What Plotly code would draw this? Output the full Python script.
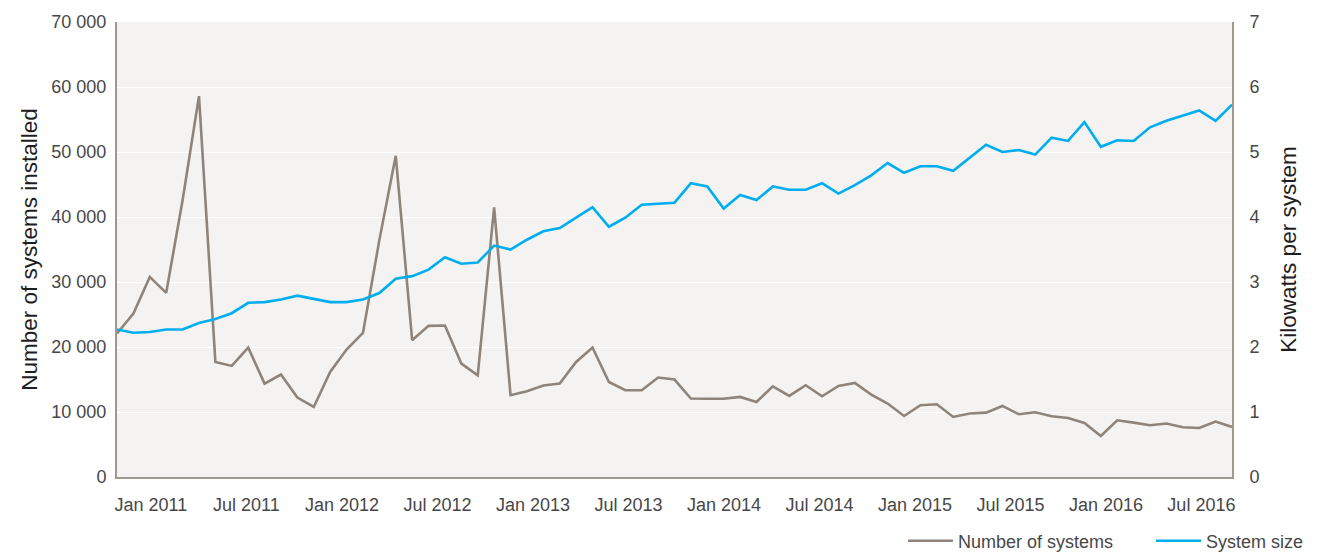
import plotly.graph_objects as go

# Monthly data, Jan 2011 .. Sep 2016
months = [f"{y}-{m:02d}" for y in range(2011, 2017) for m in range(1, 13)][:69]

number_of_systems = [
    22070, 25150, 30790, 28330, 42590, 58600, 17700, 17090, 19920, 14370, 15760, 12220,
    10780, 16160, 19610, 22170, 36440, 49420, 21040, 23250, 23300, 17450, 15650, 41470,
    12580, 13190, 14070, 14370, 17700, 19920, 14620, 13350, 13350, 15300, 14990, 12070,
    12030, 12030, 12320, 11550, 13960, 12470, 14120, 12420, 14010, 14470, 12680, 11300,
    9390, 11040, 11190, 9240, 9760, 9910, 10930, 9650, 9960, 9340, 9080, 8310,
    6310, 8730, 8370, 7960, 8220, 7650, 7540, 8530, 7700,
]

system_size = [
    2.27, 2.22, 2.23, 2.27, 2.27, 2.37, 2.43, 2.52, 2.68, 2.69, 2.73, 2.79,
    2.74, 2.69, 2.69, 2.73, 2.83, 3.05, 3.09, 3.19, 3.38, 3.28, 3.30, 3.56,
    3.50, 3.65, 3.78, 3.83, 3.99, 4.15, 3.85, 3.99, 4.19, 4.21, 4.22, 4.52,
    4.47, 4.13, 4.34, 4.26, 4.47, 4.42, 4.42, 4.52, 4.36, 4.49, 4.64, 4.83,
    4.68, 4.78, 4.78, 4.71, 4.91, 5.11, 5.00, 5.03, 4.96, 5.22, 5.17, 5.46,
    5.08, 5.18, 5.17, 5.38, 5.48, 5.56, 5.64, 5.48, 5.73,
]

tick_labels = ["Jan 2011", "Jul 2011", "Jan 2012", "Jul 2012", "Jan 2013", "Jul 2013",
               "Jan 2014", "Jul 2014", "Jan 2015", "Jul 2015", "Jan 2016", "Jul 2016"]

left_ticks = [0, 10000, 20000, 30000, 40000, 50000, 60000, 70000]
right_ticks = [0, 1, 2, 3, 4, 5, 6, 7]

x = list(range(len(months)))
tick_offset, tick_step = 2.07, 5.824
tickvals = [tick_offset + i * tick_step for i in range(len(tick_labels))]

GREY = "#8e847c"
BLUE = "#00aeef"
AXIS = "#a0978f"
TEXT = "#474747"
TITLE = "#1e1e1e"
FONT = "Liberation Sans"

fig = go.Figure()
fig.add_trace(go.Scatter(x=x, y=number_of_systems, mode="lines", name="Number of systems",
                         line=dict(color=GREY, width=2.6), yaxis="y"))
fig.add_trace(go.Scatter(x=x, y=system_size, mode="lines", name="System size",
                         line=dict(color=BLUE, width=2.6), yaxis="y2"))

fig.update_layout(
    width=1314, height=544,
    margin=dict(l=109, r=90, t=14, b=75, autoexpand=False),
    paper_bgcolor="white",
    plot_bgcolor="#f4f3f1",
    separators=". ",
    font=dict(family=FONT, color=TEXT, size=18),
    showlegend=True,
    legend=dict(orientation="h", xref="container", yref="container",
                x=0.6811, xanchor="left", y=0.0202, yanchor="middle",
                font=dict(size=18, color=TEXT), itemwidth=45, entrywidth=188,
                traceorder="normal", tracegroupgap=0, bgcolor="rgba(0,0,0,0)"),
    xaxis=dict(range=[0, len(x) - 1], tickvals=tickvals, ticktext=tick_labels,
               showgrid=False, zeroline=False, showline=True, linecolor=AXIS, linewidth=2,
               ticks="", ticklabelstandoff=10, tickfont=dict(size=18, color=TEXT),
               automargin=False),
    yaxis=dict(range=[0, 70000], tickvals=left_ticks, tickformat=",d",
               showgrid=True, gridcolor="white", gridwidth=1.3, zeroline=False,
               showline=True, linecolor=AXIS, linewidth=2, ticks="",
               ticklabelstandoff=5, tickfont=dict(size=18, color=TEXT), automargin=False,
               title=dict(text="Number of systems installed", font=dict(size=22.5, color=TITLE),
                          standoff=7)),
    yaxis2=dict(range=[0, 7], tickvals=right_ticks, overlaying="y", side="right",
                showgrid=False, zeroline=False, showline=True, linecolor=AXIS, linewidth=2,
                ticks="", ticklabelstandoff=12, tickfont=dict(size=18, color=TEXT),
                automargin=False,
                title=dict(text="Kilowatts per system", font=dict(size=22.5, color=TITLE),
                           standoff=22)),
)

fig.write_html("out.html")
